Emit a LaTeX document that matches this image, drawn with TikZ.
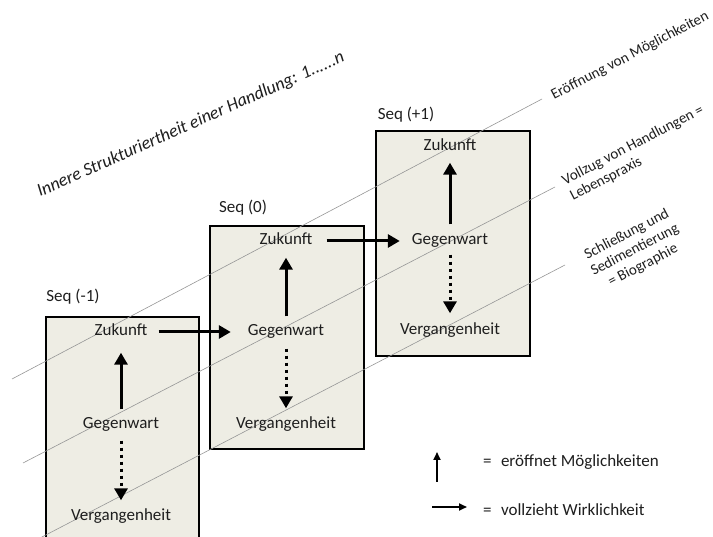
\documentclass[tikz,border=0pt]{standalone}
\usepackage{fontspec}
\setmainfont{Carlito}
\usetikzlibrary{arrows.meta}
\definecolor{boxfill}{RGB}{238,237,228}
\definecolor{diag}{RGB}{150,150,150}
\definecolor{ink}{RGB}{30,30,30}
\begin{document}
\begin{tikzpicture}[x=1pt,y=-1pt,
  seqbox/.style={draw=black, line width=2pt, fill=boxfill},
  word/.style={font=\fontsize{17}{20}\selectfont, text=ink, inner sep=0pt, text height=11.5pt, text depth=3.5pt},
  seqlabel/.style={font=\fontsize{17}{20}\selectfont, text=ink, inner sep=0pt},
  sidetext/.style={font=\fontsize{15}{17.5}\selectfont, text=ink, inner sep=0pt, rotate=27.5},
  uparrow/.style={line width=3pt, -{Triangle[width=13pt,length=12pt]}},
  downarrow/.style={line width=3pt, dash pattern=on 3.5pt off 3.5pt, -{Triangle[width=13pt,length=12pt]}},
  rightarrow/.style={line width=3pt, -{Triangle[width=13pt,length=12pt]}},
  legarrow/.style={line width=1.8pt, -{Triangle[width=7pt,length=8pt]}},
  diagline/.style={draw=diag, line width=0.6pt},
  legtext/.style={font=\fontsize{17}{20}\selectfont, text=ink, inner sep=0pt, anchor=west}]
\useasboundingbox (0,0) rectangle (713,537);
\clip (0,0) rectangle (713,537);

% boxes
\draw[seqbox] (46,317) rectangle (199,548);
\draw[seqbox] (210,226) rectangle (364,449);
\draw[seqbox] (376,131) rectangle (530,356);

% diagonal lines
\coordinate (d1a) at (12,379);  \coordinate (d1b) at (542,99);
\coordinate (d2a) at (23,463);  \coordinate (d2b) at (555,187);
\coordinate (d3a) at (35,540.6); \coordinate (d3b) at (565,265);
\draw[diagline] (d1a) -- (d1b);
\draw[diagline] (d2a) -- (d2b);
\draw[diagline] (d3a) -- (d3b);

% title
\node[font=\fontsize{18}{21}\selectfont\itshape, text=ink, inner sep=0pt, rotate=24, anchor=base west] (title) at (40,197)
  {Innere Strukturiertheit einer Handlung: 1......n};

% side labels
\node[sidetext, anchor=base west] (lab1) at (554,100) {Eröffnung von Möglichkeiten};
\node[sidetext, anchor=north west, align=left] (lab2) at (560,176) {Vollzug von Handlungen =\\Lebenspraxis};
\node[sidetext, align=center] (lab3) at (635,250) {Schließung und\\Sedimentierung\\= Biographie};

% sequence labels
\node[seqlabel] (sm1) at (73,297) {Seq (-1)};
\node[seqlabel] (s0) at (243,208) {Seq (0)};
\node[seqlabel] (sp1) at (406,115) {Seq (+1)};

% Seq (-1)
\node[word] (z1) at (121,332) {Zukunft};
\node[word] (g1) at (121,425) {Gegenwart};
\node[word] (v1) at (121,517) {Vergangenheit};
% Seq (0)
\node[word] (z2) at (286,241) {Zukunft};
\node[word] (g2) at (286,332) {Gegenwart};
\node[word] (v2) at (286,425) {Vergangenheit};
% Seq (+1)
\node[word] (z3) at (450,147) {Zukunft};
\node[word] (g3) at (450,241) {Gegenwart};
\node[word] (v3) at (450,331) {Vergangenheit};

% vertical arrows
\draw[uparrow, shorten <=8pt, shorten >=13pt] (g1.north) -- (z1.south);
\draw[downarrow, shorten <=8pt, shorten >=9pt] (g1.south) -- (v1.north);
\draw[uparrow, shorten <=8pt, shorten >=9pt] (g2.north) -- (z2.south);
\draw[downarrow, shorten <=9pt, shorten >=9pt] (g2.south) -- (v2.north);
\draw[uparrow, shorten <=9pt, shorten >=8pt] (g3.north) -- (z3.south);
\draw[downarrow, shorten <=6pt, shorten >=10pt] (g3.south) -- (v3.north);

% horizontal arrows
\draw[rightarrow, shorten <=11pt, shorten >=17pt] (z1.east) -- (g2.west);
\draw[rightarrow, shorten <=14pt, shorten >=12pt] (z2.east) -- (g3.west);

% legend
\node[legtext] (leg1) at (483,462) {=\hspace{0.55em}eröffnet Möglichkeiten};
\node[legtext] (leg2) at (483,510) {=\hspace{0.55em}vollzieht Wirklichkeit};
\coordinate (lu1) at (437,482); \coordinate (lu2) at (437,452);
\coordinate (lr1) at (432,507); \coordinate (lr2) at (467,507);
\draw[legarrow] (lu1) -- (lu2);
\draw[legarrow] (lr1) -- (lr2);
\end{tikzpicture}
\end{document}
